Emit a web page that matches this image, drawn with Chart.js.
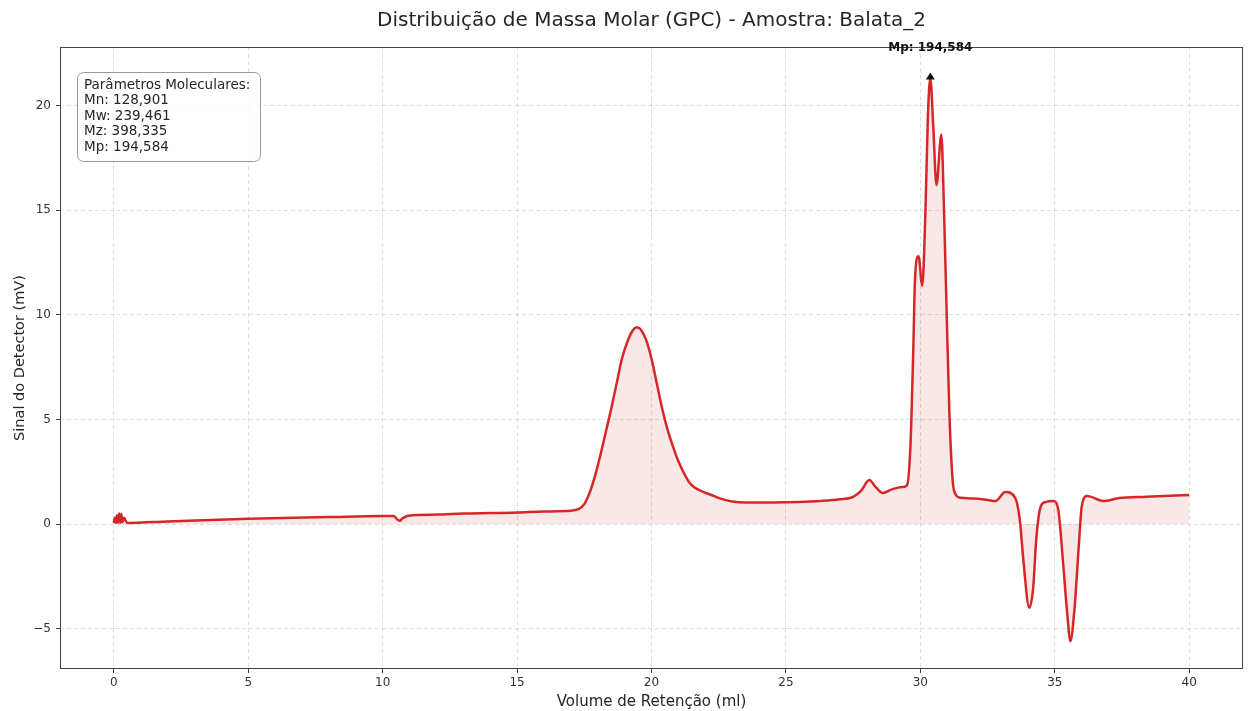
<!DOCTYPE html>
<html>
<head>
<meta charset="utf-8">
<script src="https://cdn.jsdelivr.net/npm/chart.js@4/dist/chart.umd.min.js"></script>
<style>
html, body { margin: 0; padding: 0; background: #fff; }
#chart { display: block; }
</style>
</head>
<body>
<canvas id="chart" width="1248" height="711"></canvas>
<script>
// retention volume (ml) and detector signal (mV)
const volumes = [0.0, 0.04, 0.08, 0.12, 0.16, 0.2, 0.24, 0.28, 0.32, 0.38, 0.5, 2, 5, 8, 10, 10.4, 10.55, 10.63, 10.75, 10.95, 12, 13, 15, 16, 17, 17.3, 17.5, 17.7, 17.9, 18.1, 18.3, 18.5, 18.7, 18.9, 19.1, 19.3, 19.45, 19.6, 19.8, 20.0, 20.2, 20.4, 20.6, 20.8, 21.0, 21.2, 21.4, 21.6, 21.9, 22.2, 22.6, 23.0, 23.5, 24.5, 25.5, 26.3, 27, 27.5, 27.8, 28.1, 28.35, 28.6, 28.96, 29.33, 29.5, 29.63, 29.74, 29.8, 29.93, 30.07, 30.19, 30.28, 30.37, 30.48, 30.6, 30.78, 30.88, 30.98, 31.08, 31.2, 31.32, 31.5, 32.0, 32.5, 32.8, 33.16, 33.53, 33.7, 33.83, 34.05, 34.2, 34.3, 34.46, 34.65, 34.95, 35.13, 35.3, 35.46, 35.58, 35.73, 35.9, 36.0, 36.2, 36.8, 37.4, 38.4, 40];
const signal = [0.05, 0.3, 0.05, 0.42, 0.06, 0.5, 0.06, 0.48, 0.08, 0.3, 0.05, 0.12, 0.25, 0.33, 0.38, 0.38, 0.22, 0.15, 0.28, 0.4, 0.45, 0.5, 0.55, 0.6, 0.63, 0.72, 0.95, 1.5, 2.3, 3.3, 4.4, 5.5, 6.7, 7.9, 8.7, 9.25, 9.4, 9.3, 8.8, 7.9, 6.7, 5.5, 4.5, 3.7, 3.0, 2.45, 2.0, 1.75, 1.55, 1.4, 1.2, 1.08, 1.03, 1.03, 1.05, 1.1, 1.18, 1.3, 1.6, 2.1, 1.75, 1.48, 1.67, 1.77, 1.85, 3.7, 8.5, 11.7, 12.8, 11.4, 15.0, 19.5, 21.3, 19.0, 16.2, 18.6, 15.0, 10.0, 5.3, 2.1, 1.4, 1.25, 1.22, 1.15, 1.1, 1.53, 1.24, 0.19, -1.72, -4.0, -3.0, -0.9, 0.77, 1.05, 1.1, 0.67, -1.72, -4.25, -5.6, -4.1, -0.9, 0.82, 1.34, 1.1, 1.24, 1.3, 1.39];

const xTicks = [0, 5, 10, 15, 20, 25, 30, 35, 40];
const yTicks = [-5, 0, 5, 10, 15, 20];

const titleText = 'Distribuição de Massa Molar (GPC) - Amostra: Balata_2';
const xTitle = 'Volume de Retenção (ml)';
const yTitle = 'Sinal do Detector (mV)';
const paramLines = ['Parâmetros Moleculares:', 'Mn: 128,901', 'Mw: 239,461', 'Mz: 398,335', 'Mp: 194,584'];
const mpLabel = 'Mp: 194,584';

const FONT = '"DejaVu Sans", sans-serif';
const lineRed = '#d62728';

const points = volumes.map((v, i) => ({ x: v, y: signal[i] }));
const peakIdx = signal.indexOf(Math.max(...signal));

// title, axis titles, frame, parameter box and Mp arrow
const decor = {
    id: 'decor',
    afterDraw(chart) {
        const { ctx, chartArea: a, scales } = chart;
        ctx.save();

        ctx.strokeStyle = '#444';
        ctx.lineWidth = 1;
        ctx.strokeRect(a.left + 0.5, a.top + 0.5, a.right - a.left - 1, a.bottom - a.top - 1);

        ctx.fillStyle = '#262626';
        ctx.textAlign = 'center';
        ctx.textBaseline = 'middle';
        ctx.font = '20px ' + FONT;
        ctx.fillText(titleText, (a.left + a.right) / 2, 21);

        ctx.font = '15px ' + FONT;
        ctx.fillText(xTitle, (a.left + a.right) / 2, 702);
        ctx.save();
        ctx.translate(20, (a.top + a.bottom) / 2);
        ctx.rotate(-Math.PI / 2);
        ctx.font = '14.5px ' + FONT;
        ctx.fillText(yTitle, 0, 0);
        ctx.restore();

        // parameter box
        ctx.beginPath();
        ctx.roundRect(77.5, 72.5, 183, 89, 6);
        ctx.fillStyle = 'rgba(255,255,255,0.85)';
        ctx.fill();
        ctx.strokeStyle = '#999';
        ctx.stroke();
        ctx.fillStyle = '#262626';
        ctx.textAlign = 'left';
        ctx.font = '13.5px ' + FONT;
        paramLines.forEach((t, i) => ctx.fillText(t, 84, 85.5 + i * 15.4));

        // Mp annotation
        const px = scales.x.getPixelForValue(volumes[peakIdx]);
        const py = scales.y.getPixelForValue(signal[peakIdx]) - 6;
        ctx.fillStyle = '#111';
        ctx.beginPath();
        ctx.moveTo(px, py);
        ctx.lineTo(px - 4.5, py + 7);
        ctx.lineTo(px + 4.5, py + 7);
        ctx.closePath();
        ctx.fill();
        ctx.textAlign = 'center';
        ctx.font = 'bold 12px ' + FONT;
        ctx.fillText(mpLabel, px, a.top + 1);

        ctx.restore();
    }
};

const tickFmt = v => String(v).replace('-', '\u2212');

const config = {
    type: 'line',
    data: {
        datasets: [{
            data: points,
            borderColor: lineRed,
            borderWidth: 2.5,
            backgroundColor: 'rgba(214,39,40,0.11)',
            fill: 'origin',
            pointRadius: 0,
            cubicInterpolationMode: 'monotone'
        }]
    },
    options: {
        responsive: false,
        animation: false,
        devicePixelRatio: 1,
        layout: { padding: { top: 47, right: 5, left: 0, bottom: 0 } },
        scales: {
            x: {
                type: 'linear',
                min: -2,
                max: 42,
                afterBuildTicks: s => { s.ticks = xTicks.map(v => ({ value: v })); },
                afterFit: s => { s.height = 42; },
                grid: { color: 'rgba(160,160,160,0.35)', tickColor: '#444', tickLength: 4, lineWidth: 1 },
                border: { display: false, dash: [4, 3] },
                ticks: { color: '#333', font: { family: FONT, size: 12 }, padding: 3, callback: tickFmt, maxRotation: 0 }
            },
            y: {
                type: 'linear',
                min: -6.93,
                max: 22.8,
                afterBuildTicks: s => { s.ticks = yTicks.map(v => ({ value: v })); },
                afterFit: s => { s.width = 60; },
                grid: { color: 'rgba(160,160,160,0.35)', tickColor: '#444', tickLength: 4, lineWidth: 1 },
                border: { display: false, dash: [4, 3] },
                ticks: { color: '#333', font: { family: FONT, size: 12 }, padding: 5, callback: tickFmt }
            }
        },
        plugins: {
            legend: { display: false },
            title: { display: false },
            tooltip: { enabled: false }
        }
    },
    plugins: [decor]
};

new Chart(document.querySelector('#chart'), config);
</script>
</body>
</html>
